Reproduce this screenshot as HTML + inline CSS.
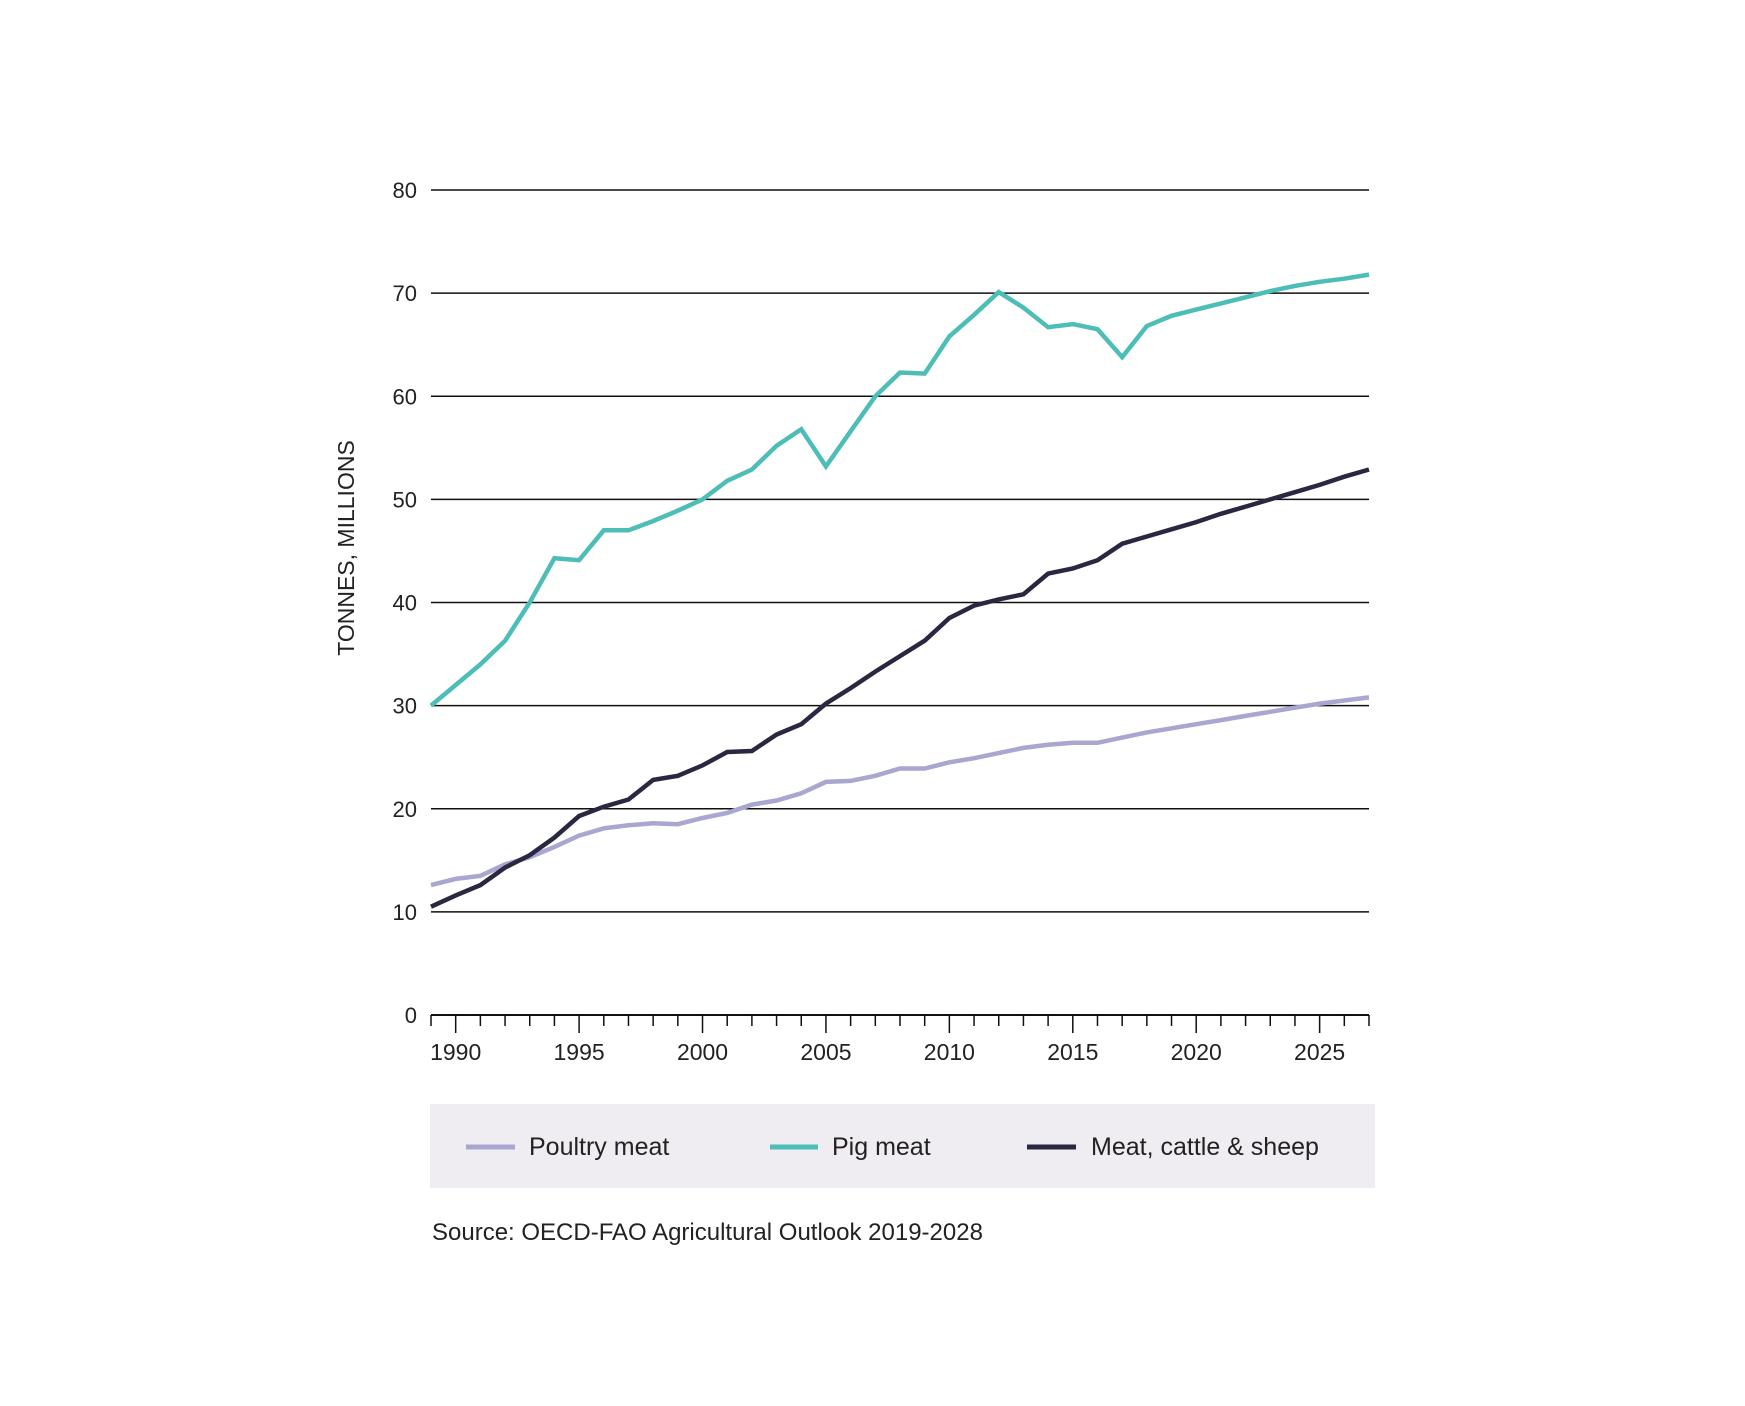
<!DOCTYPE html>
<html><head><meta charset="utf-8"><style>
html,body{margin:0;padding:0;background:#fff;}
svg{display:block;font-family:"Liberation Sans",sans-serif;}
</style></head><body>
<svg id="chart" width="1745" height="1406" viewBox="0 0 1745 1406" xmlns="http://www.w3.org/2000/svg">
<g id="grid"></g>
<g id="yticks"></g>
<g id="xaxis"></g>
<g id="series"></g>
<text transform="translate(354,548) rotate(-90)" text-anchor="middle" font-size="23" fill="#222">TONNES, MILLIONS</text>
<g>
<rect x="430" y="1104" width="945" height="84" fill="#efedf2"/>
<g><line x1="466" y1="1147" x2="515" y2="1147" stroke="#a9a6d0" stroke-width="5"/><text x="529" y="1155" font-size="25" fill="#222">Poultry meat</text></g>
<g><line x1="770" y1="1147" x2="818" y2="1147" stroke="#4dbdb7" stroke-width="5"/><text x="832" y="1155" font-size="25" fill="#222">Pig meat</text></g>
<g><line x1="1027" y1="1147" x2="1076" y2="1147" stroke="#2a2840" stroke-width="5"/><text x="1091" y="1155" font-size="25" fill="#222">Meat, cattle &amp; sheep</text></g>
</g>
<text x="432" y="1240" font-size="24" fill="#222">Source: OECD-FAO Agricultural Outlook 2019-2028</text>
</svg>
<script>
const years = [];
for (let y = 1989; y <= 2027; y++) years.push(y);
const pigMeat = [30,32,34,36.3,40,44.3,44.1,47,47,47.9,48.9,50,51.8,52.9,55.2,56.8,53.2,56.6,60,62.3,62.2,65.8,67.9,70.1,68.6,66.7,67,66.5,63.8,66.8,67.8,68.4,69,69.6,70.2,70.7,71.1,71.4,71.8];
const cattleMeat = [10.5,11.6,12.6,14.3,15.5,17.2,19.3,20.2,20.9,22.8,23.2,24.2,25.5,25.6,27.2,28.2,30.2,31.7,33.3,34.8,36.3,38.5,39.7,40.3,40.8,42.8,43.3,44.1,45.7,46.4,47.1,47.8,48.6,49.3,50.0,50.7,51.4,52.2,52.9];
const poultryMeat = [12.6,13.2,13.5,14.6,15.3,16.3,17.4,18.1,18.4,18.6,18.5,19.1,19.6,20.4,20.8,21.5,22.6,22.7,23.2,23.9,23.9,24.5,24.9,25.4,25.9,26.2,26.4,26.4,26.9,27.4,27.8,28.2,28.6,29.0,29.4,29.8,30.2,30.5,30.8];
const yTicks = [0,10,20,30,40,50,60,70,80];
const xLabels = [1990,1995,2000,2005,2010,2015,2020,2025];

const NS = "http://www.w3.org/2000/svg";
const X0 = 431, X1 = 1369, Y0 = 1015, Y1 = 190;
const xMin = 1989, xMax = 2027;
function xs(v){ return X0 + (v - xMin) / (xMax - xMin) * (X1 - X0); }
function ys(v){ return Y0 - v / 80 * (Y0 - Y1); }
function mk(tag, attrs, parent){ const e = document.createElementNS(NS, tag); for (const k in attrs) e.setAttribute(k, attrs[k]); parent.appendChild(e); return e; }

const grid = document.getElementById('grid'), yt = document.getElementById('yticks'), xa = document.getElementById('xaxis'), ser = document.getElementById('series');
yTicks.forEach(v => {
  if (v > 0) {
    const l = mk('line', {x1: X0, x2: X1, y1: ys(v), y2: ys(v), stroke: '#111', 'stroke-width': 1.5}, grid);
    
    
  }
  const t = mk('text', {x: 417, y: ys(v) + 8, 'text-anchor': 'end', 'font-size': 22, fill: '#222'}, yt);
  t.textContent = v;
  
  
});
const ax = mk('line', {x1: X0, x2: X1, y1: Y0, y2: Y0, stroke: '#111', 'stroke-width': 2}, xa);


for (let y = xMin; y <= xMax; y++) {
  const tk = mk('line', {x1: xs(y), x2: xs(y), y1: Y0, y2: Y0 + (y % 5 === 0 ? 18 : 11), stroke: '#111', 'stroke-width': 1.5}, xa);
  
  
}
xLabels.forEach(y => {
  const t = mk('text', {x: xs(y), y: Y0 + 45, 'text-anchor': 'middle', 'font-size': 23, fill: '#222'}, xa);
  t.textContent = y;
  
  
});
function line(data, color, name){
  const d = data.map((v, i) => (i ? 'L' : 'M') + xs(years[i]).toFixed(1) + ',' + ys(v).toFixed(1)).join(' ');
  const p = mk('path', {d: d, fill: 'none', stroke: color, 'stroke-width': 4.5, 'stroke-linejoin': 'miter'}, ser);
  
  
}
line(poultryMeat, '#a9a6d0', 'poultry-meat-line');
line(pigMeat, '#4dbdb7', 'pig-meat-line');
line(cattleMeat, '#2a2840', 'cattle-sheep-meat-line');
</script>
</body></html>
